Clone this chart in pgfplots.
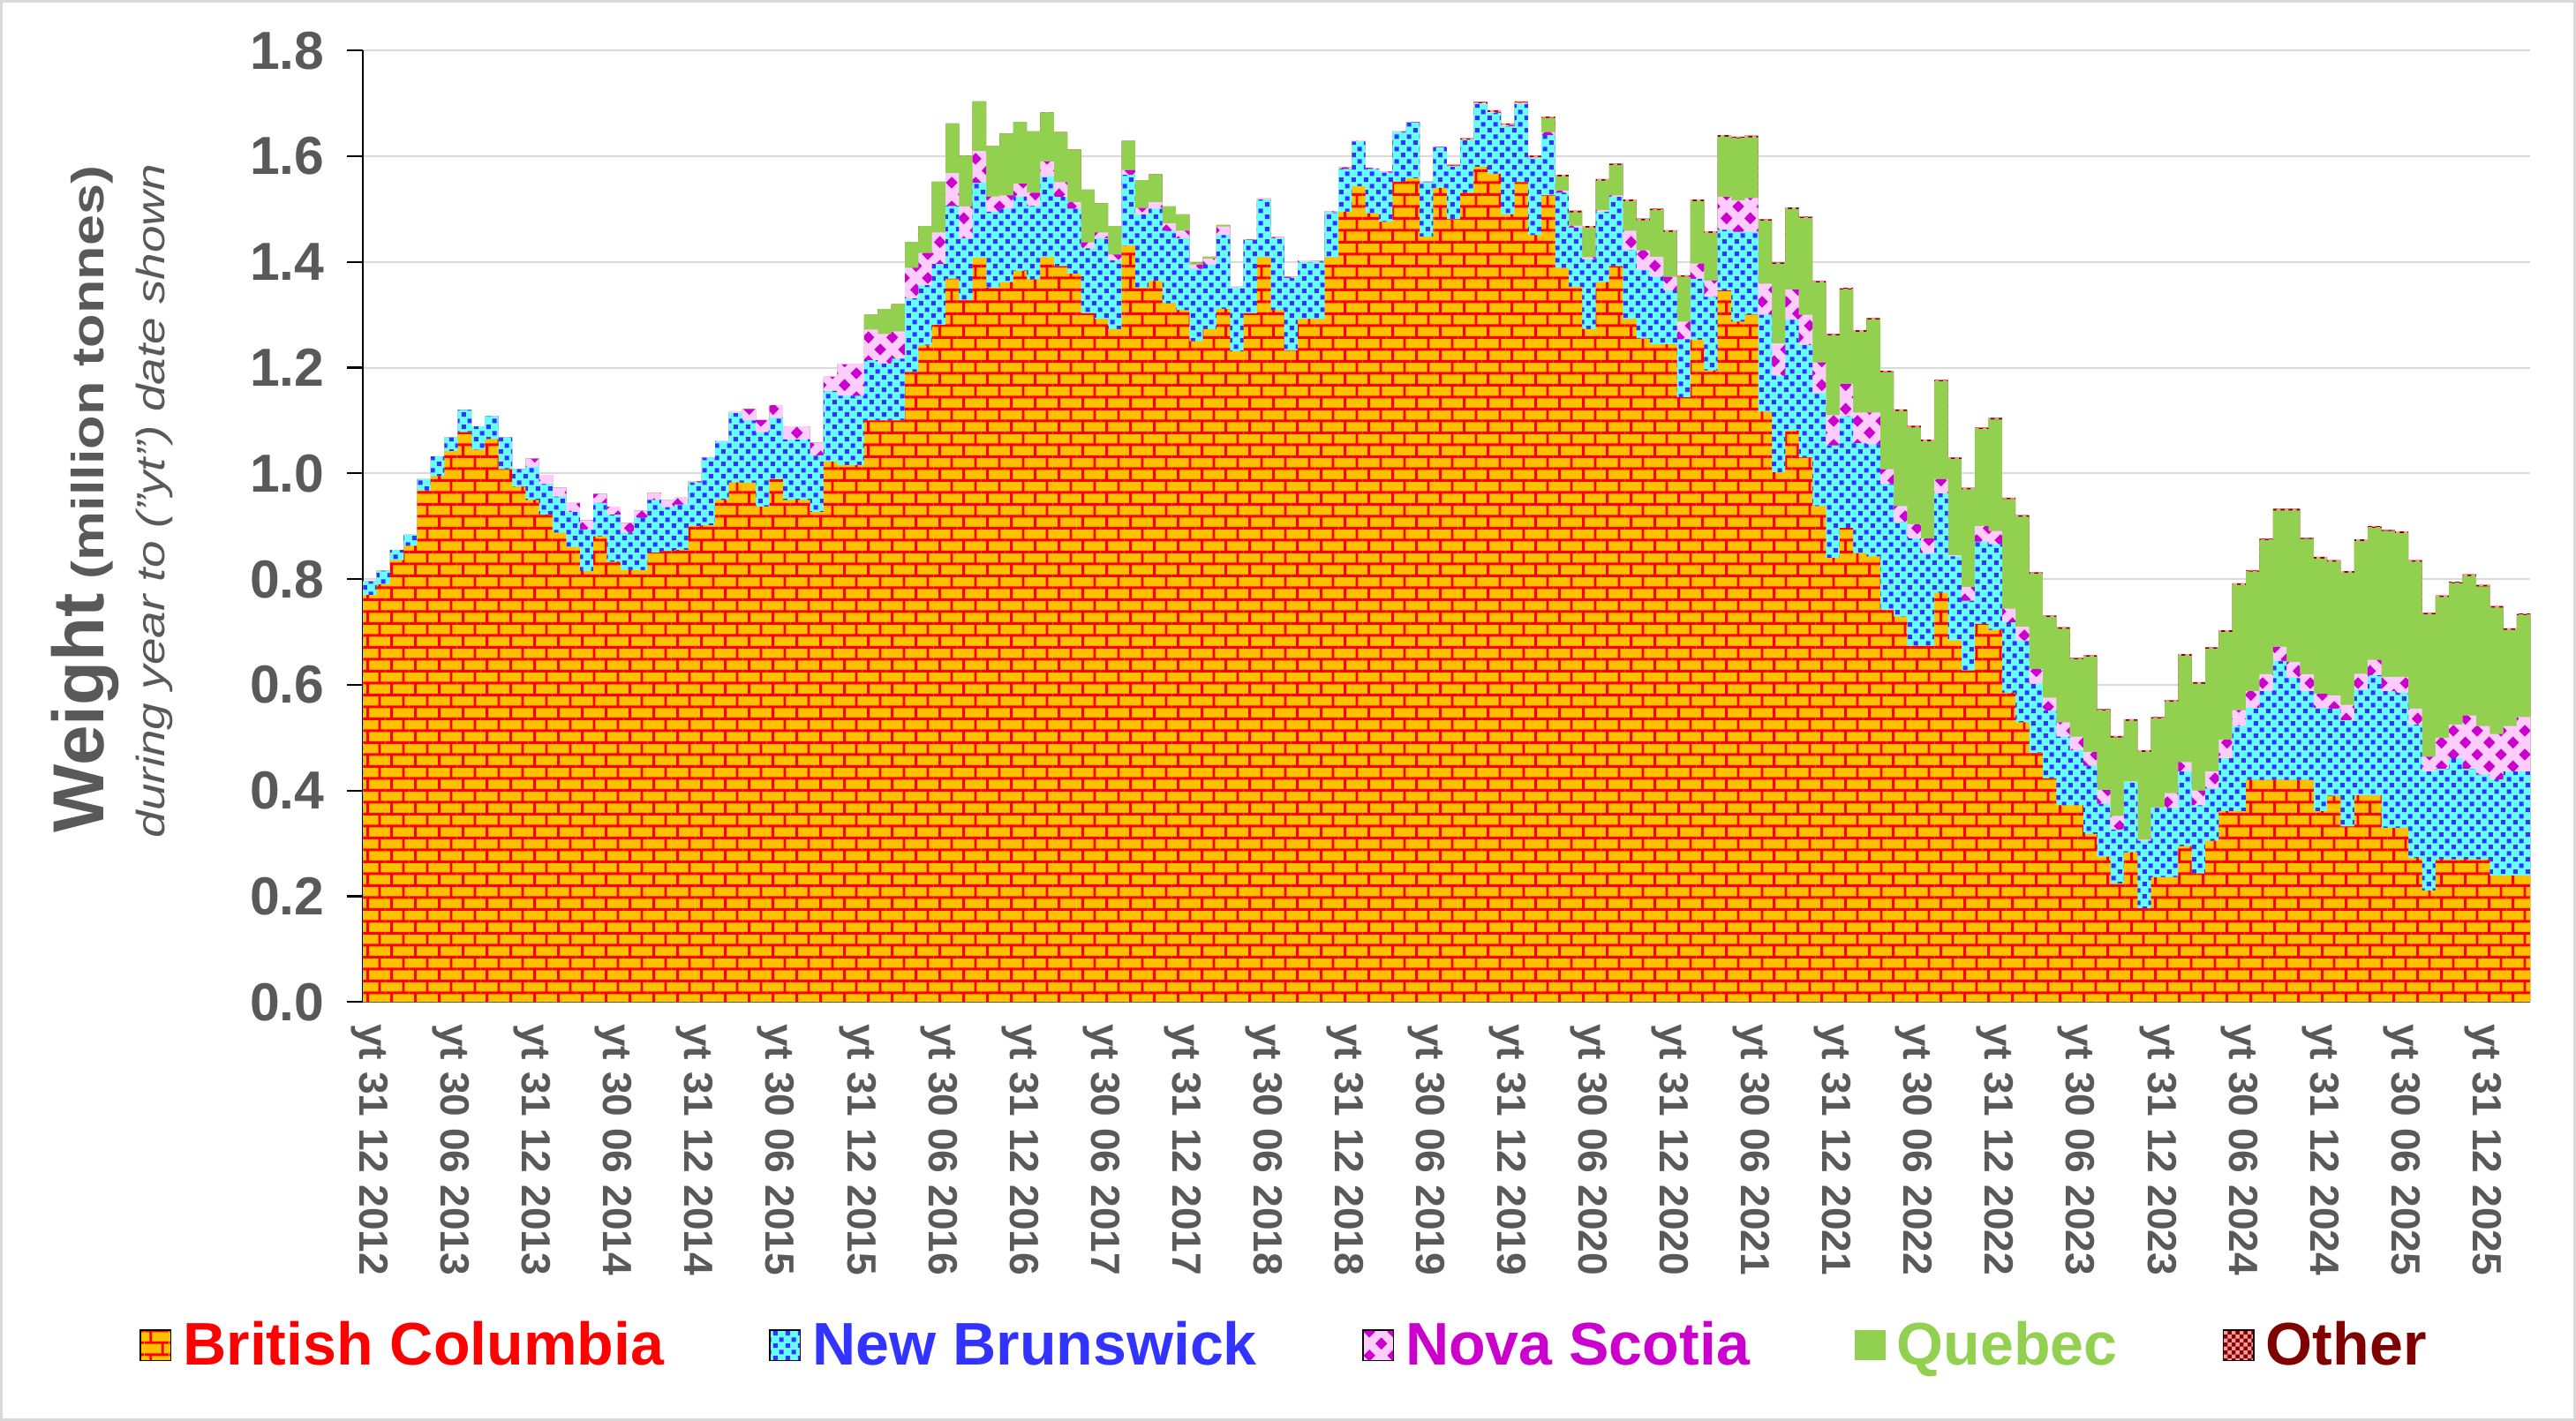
\documentclass[border=0pt]{standalone}
\usepackage{fontspec}
\setmainfont{Liberation Sans}
\usepackage{graphicx}
\usepackage{pgfplots}
\pgfplotsset{compat=1.18}
\usepackage{pgfplotstable}
\usetikzlibrary{patterns}

\definecolor{bcorange}{HTML}{FFC000}
\definecolor{bcred}{HTML}{FF0000}
\definecolor{nbcyan}{HTML}{66FFFF}
\definecolor{nbblue}{HTML}{3333FF}
\definecolor{nspink}{HTML}{FFCCFF}
\definecolor{nsmag}{HTML}{CC00CC}
\definecolor{qgreen}{HTML}{92D050}
\definecolor{othred}{HTML}{800000}
\definecolor{othpink}{HTML}{FF9999}
\definecolor{textgray}{HTML}{595959}
\definecolor{gridgray}{HTML}{D9D9D9}

% brick pattern (British Columbia)
\pgfdeclarepatternformonly{bcbricks}{\pgfpointorigin}{\pgfqpoint{7.35pt}{7.36pt}}{\pgfqpoint{7.35pt}{7.36pt}}{%
  \pgfsetlinewidth{0.8pt}%
  \pgfpathmoveto{\pgfqpoint{0pt}{1.84pt}}\pgfpathlineto{\pgfqpoint{7.35pt}{1.84pt}}%
  \pgfpathmoveto{\pgfqpoint{0pt}{5.52pt}}\pgfpathlineto{\pgfqpoint{7.35pt}{5.52pt}}%
  \pgfpathmoveto{\pgfqpoint{1.84pt}{1.84pt}}\pgfpathlineto{\pgfqpoint{1.84pt}{5.52pt}}%
  \pgfpathmoveto{\pgfqpoint{5.51pt}{5.52pt}}\pgfpathlineto{\pgfqpoint{5.51pt}{7.36pt}}%
  \pgfpathmoveto{\pgfqpoint{5.51pt}{0pt}}\pgfpathlineto{\pgfqpoint{5.51pt}{1.84pt}}%
  \pgfusepath{stroke}%
}
% square dots (New Brunswick)
\pgfdeclarepatternformonly{nbdots}{\pgfpointorigin}{\pgfqpoint{3.675pt}{3.675pt}}{\pgfqpoint{3.675pt}{3.675pt}}{%
  \pgfpathrectangle{\pgfqpoint{0.25pt}{0.25pt}}{\pgfqpoint{1.35pt}{1.35pt}}%
  \pgfpathrectangle{\pgfqpoint{2.09pt}{2.09pt}}{\pgfqpoint{1.35pt}{1.35pt}}%
  \pgfusepath{fill}%
}
% diamonds (Nova Scotia)
\pgfdeclarepatternformonly{nsdiamonds}{\pgfpointorigin}{\pgfqpoint{7.35pt}{7.35pt}}{\pgfqpoint{7.35pt}{7.35pt}}{%
  \pgfpathmoveto{\pgfqpoint{0.0pt}{1.84pt}}\pgfpathlineto{\pgfqpoint{1.84pt}{3.74pt}}%
  \pgfpathlineto{\pgfqpoint{3.68pt}{1.84pt}}\pgfpathlineto{\pgfqpoint{1.84pt}{-0.06pt}}\pgfpathclose
  \pgfpathmoveto{\pgfqpoint{3.67pt}{5.51pt}}\pgfpathlineto{\pgfqpoint{5.51pt}{7.35pt}}%
  \pgfpathlineto{\pgfqpoint{7.35pt}{5.51pt}}\pgfpathlineto{\pgfqpoint{5.51pt}{3.67pt}}\pgfpathclose
  \pgfusepath{fill}%
}
% small checks (Other)
\pgfdeclarepatternformonly{othchecks}{\pgfpointorigin}{\pgfqpoint{2.4pt}{2.4pt}}{\pgfqpoint{2.4pt}{2.4pt}}{%
  \pgfpathrectangle{\pgfqpoint{0pt}{0pt}}{\pgfqpoint{1.2pt}{1.2pt}}%
  \pgfpathrectangle{\pgfqpoint{1.2pt}{1.2pt}}{\pgfqpoint{1.2pt}{1.2pt}}%
  \pgfusepath{fill}%
}

\tikzset{
  bcstyle/.style={fill=bcorange, postaction={pattern=bcbricks, pattern color=bcred}},
  nbstyle/.style={fill=nbcyan, postaction={pattern=nbdots, pattern color=nbblue}},
  nsstyle/.style={fill=nspink, postaction={pattern=nsdiamonds, pattern color=nsmag}},
  qstyle/.style={fill=qgreen},
  othstyle/.style={fill=othred, postaction={pattern=othchecks, pattern color=othpink}},
}

% Monthly values (Dec 2012 = 0 ... Mar 2026 = 159).
% Columns give the top of each stacked layer (million tonnes):
% bc = British Columbia, nbt = + New Brunswick, nst = + Nova Scotia,
% qt = + Quebec, ot = + Other. Last row closes the final step.
\pgfplotstableread{
x bc nbt nst qt ot
0 0.770 0.796 0.796 0.796 0.796
1 0.790 0.816 0.816 0.816 0.816
2 0.836 0.855 0.855 0.855 0.855
3 0.863 0.884 0.884 0.884 0.884
4 0.968 0.989 0.989 0.989 0.989
5 0.995 1.032 1.032 1.032 1.032
6 1.042 1.068 1.068 1.068 1.068
7 1.078 1.120 1.120 1.120 1.120
8 1.045 1.089 1.089 1.089 1.089
9 1.065 1.108 1.108 1.108 1.108
10 1.008 1.068 1.068 1.068 1.068
11 0.975 1.008 1.008 1.008 1.008
12 0.950 1.012 1.028 1.028 1.028
13 0.922 0.980 0.997 0.997 0.997
14 0.888 0.956 0.973 0.973 0.973
15 0.861 0.927 0.944 0.944 0.944
16 0.815 0.894 0.911 0.911 0.911
17 0.881 0.944 0.961 0.961 0.961
18 0.833 0.922 0.937 0.937 0.937
19 0.817 0.888 0.906 0.906 0.906
20 0.817 0.916 0.930 0.930 0.930
21 0.850 0.950 0.963 0.963 0.963
22 0.853 0.936 0.950 0.950 0.950
23 0.855 0.941 0.954 0.954 0.954
24 0.900 0.983 0.985 0.985 0.985
25 0.902 1.029 1.030 1.030 1.030
26 0.950 1.060 1.062 1.062 1.062
27 0.983 1.114 1.116 1.116 1.116
28 0.982 1.100 1.122 1.122 1.122
29 0.937 1.078 1.101 1.101 1.101
30 0.989 1.105 1.129 1.129 1.129
31 0.950 1.064 1.089 1.089 1.089
32 0.950 1.064 1.089 1.089 1.089
33 0.927 1.034 1.058 1.058 1.058
34 1.022 1.156 1.183 1.183 1.183
35 1.016 1.147 1.206 1.206 1.206
36 1.016 1.147 1.206 1.206 1.206
37 1.100 1.214 1.272 1.300 1.300
38 1.100 1.208 1.264 1.311 1.311
39 1.100 1.217 1.269 1.320 1.320
40 1.192 1.331 1.389 1.438 1.438
41 1.242 1.356 1.417 1.468 1.468
42 1.281 1.396 1.456 1.552 1.552
43 1.368 1.506 1.568 1.662 1.662
44 1.328 1.445 1.505 1.601 1.601
45 1.408 1.550 1.610 1.704 1.704
46 1.351 1.495 1.524 1.619 1.619
47 1.362 1.501 1.526 1.643 1.643
48 1.383 1.524 1.548 1.665 1.665
49 1.367 1.506 1.531 1.647 1.647
50 1.409 1.562 1.590 1.683 1.683
51 1.392 1.523 1.551 1.646 1.646
52 1.378 1.501 1.513 1.613 1.613
53 1.303 1.426 1.437 1.537 1.537
54 1.292 1.445 1.456 1.511 1.511
55 1.273 1.403 1.414 1.468 1.468
56 1.431 1.565 1.574 1.629 1.629
57 1.351 1.490 1.502 1.555 1.555
58 1.364 1.501 1.513 1.566 1.566
59 1.322 1.459 1.473 1.505 1.505
60 1.309 1.445 1.459 1.490 1.490
61 1.250 1.387 1.395 1.399 1.399
62 1.273 1.395 1.406 1.410 1.410
63 1.311 1.451 1.467 1.470 1.470
64 1.231 1.352 1.353 1.353 1.353
65 1.303 1.442 1.443 1.443 1.443
66 1.409 1.518 1.520 1.520 1.520
67 1.309 1.445 1.447 1.447 1.447
68 1.233 1.370 1.372 1.372 1.372
69 1.292 1.400 1.403 1.403 1.403
70 1.292 1.400 1.402 1.402 1.402
71 1.409 1.494 1.496 1.496 1.496
72 1.495 1.576 1.579 1.579 1.579
73 1.543 1.628 1.630 1.630 1.630
74 1.492 1.576 1.578 1.578 1.578
75 1.476 1.569 1.571 1.571 1.571
76 1.552 1.646 1.647 1.647 1.647
77 1.558 1.664 1.665 1.665 1.665
78 1.448 1.551 1.552 1.552 1.552
79 1.540 1.617 1.618 1.618 1.618
80 1.481 1.580 1.581 1.581 1.584
81 1.531 1.630 1.631 1.631 1.634
82 1.580 1.699 1.700 1.700 1.703
83 1.567 1.682 1.684 1.684 1.687
84 1.490 1.657 1.659 1.659 1.662
85 1.551 1.699 1.701 1.701 1.704
86 1.451 1.596 1.598 1.598 1.601
87 1.526 1.640 1.646 1.672 1.675
88 1.389 1.531 1.535 1.562 1.565
89 1.353 1.465 1.469 1.494 1.497
90 1.273 1.405 1.409 1.465 1.468
91 1.362 1.495 1.498 1.554 1.557
92 1.392 1.523 1.526 1.583 1.586
93 1.292 1.423 1.459 1.515 1.518
94 1.255 1.385 1.422 1.479 1.482
95 1.244 1.372 1.410 1.498 1.501
96 1.244 1.346 1.372 1.457 1.460
97 1.144 1.254 1.287 1.372 1.375
98 1.253 1.368 1.397 1.515 1.518
99 1.195 1.334 1.365 1.455 1.458
100 1.346 1.461 1.523 1.637 1.640
101 1.287 1.457 1.517 1.634 1.637
102 1.300 1.457 1.521 1.636 1.639
103 1.117 1.300 1.359 1.478 1.481
104 1.002 1.185 1.246 1.396 1.399
105 1.081 1.291 1.348 1.500 1.503
106 1.030 1.243 1.300 1.483 1.486
107 0.938 1.152 1.210 1.361 1.364
108 0.840 1.053 1.110 1.261 1.264
109 0.897 1.108 1.169 1.348 1.351
110 0.849 1.057 1.115 1.268 1.271
111 0.843 1.055 1.115 1.291 1.294
112 0.742 0.980 1.008 1.191 1.194
113 0.729 0.908 0.938 1.118 1.121
114 0.674 0.877 0.904 1.087 1.090
115 0.674 0.849 0.877 1.061 1.064
116 0.774 0.962 0.989 1.174 1.177
117 0.684 0.843 0.845 1.027 1.030
118 0.627 0.759 0.785 0.970 0.973
119 0.715 0.871 0.900 1.084 1.087
120 0.704 0.866 0.891 1.102 1.105
121 0.585 0.718 0.744 0.951 0.954
122 0.529 0.684 0.710 0.918 0.921
123 0.471 0.602 0.630 0.810 0.813
124 0.423 0.551 0.576 0.728 0.731
125 0.372 0.502 0.529 0.706 0.709
126 0.372 0.476 0.502 0.648 0.651
127 0.318 0.447 0.473 0.653 0.656
128 0.275 0.375 0.401 0.551 0.554
129 0.224 0.326 0.352 0.500 0.503
130 0.283 0.416 0.417 0.532 0.535
131 0.177 0.305 0.307 0.473 0.476
132 0.236 0.367 0.368 0.536 0.539
133 0.236 0.367 0.395 0.568 0.571
134 0.295 0.436 0.454 0.655 0.658
135 0.243 0.372 0.400 0.602 0.605
136 0.305 0.404 0.436 0.668 0.671
137 0.361 0.461 0.496 0.700 0.703
138 0.361 0.522 0.552 0.789 0.792
139 0.420 0.556 0.588 0.814 0.817
140 0.420 0.588 0.620 0.874 0.877
141 0.420 0.645 0.672 0.930 0.933
142 0.420 0.614 0.643 0.930 0.933
143 0.420 0.588 0.620 0.875 0.878
144 0.361 0.556 0.583 0.839 0.842
145 0.390 0.555 0.580 0.833 0.836
146 0.332 0.533 0.562 0.812 0.815
147 0.391 0.591 0.621 0.872 0.875
148 0.391 0.618 0.647 0.897 0.900
149 0.329 0.588 0.615 0.890 0.893
150 0.329 0.585 0.615 0.887 0.890
151 0.272 0.525 0.555 0.833 0.836
152 0.211 0.436 0.464 0.733 0.736
153 0.270 0.441 0.500 0.766 0.769
154 0.270 0.461 0.525 0.792 0.795
155 0.270 0.441 0.542 0.806 0.809
156 0.270 0.430 0.522 0.786 0.789
157 0.239 0.421 0.507 0.746 0.749
158 0.239 0.436 0.522 0.704 0.707
159 0.239 0.436 0.539 0.732 0.735
160 0.239 0.436 0.539 0.732 0.735
}\datatable

\begin{document}
\begin{tikzpicture}
\useasboundingbox (-110.5pt,-127.5pt) rectangle (673.5pt,305pt);
\draw[gridgray, line width=0.75pt] (-110.1pt,-127.1pt) rectangle (673.1pt,304.6pt);
\begin{axis}[
  name=ax,
  at={(0pt,0pt)}, anchor=south west,
  scale only axis,
  width=659.6pt, height=289.6pt,
  xmin=0, xmax=160, ymin=0, ymax=1.8,
  axis x line*=bottom, axis y line*=left,
  axis line style={black, line width=0.6pt},
  tick align=outside,
  tick style={black, line width=0.6pt},
  major tick length=4.8pt,
  minor tick length=3.2pt,
  xtick=\empty,
  minor xtick={0,6,...,156},
  extra x ticks={0.5,6.5,...,156.5},
  extra x tick labels={yt 31 12 2012,yt 30 06 2013,yt 31 12 2013,yt 30 06 2014,yt 31 12 2014,yt 30 06 2015,yt 31 12 2015,yt 30 06 2016,yt 31 12 2016,yt 30 06 2017,yt 31 12 2017,yt 30 06 2018,yt 31 12 2018,yt 30 06 2019,yt 31 12 2019,yt 30 06 2020,yt 31 12 2020,yt 30 06 2021,yt 31 12 2021,yt 30 06 2022,yt 31 12 2022,yt 30 06 2023,yt 31 12 2023,yt 30 06 2024,yt 31 12 2024,yt 30 06 2025,yt 31 12 2025},
  extra x tick style={major tick length=3.2pt, tick style={draw=none}, grid=none},
  xticklabel style={rotate=-90, anchor=west, font=\bfseries\fontsize{12.4}{14}\selectfont, text=textgray},
  ytick={0,0.2,0.4,0.6,0.8,1.0,1.2,1.4,1.6,1.8},
  ymajorgrids,
  grid style={gridgray, line width=0.5pt},
  /pgf/number format/assume math mode=true,
  yticklabel style={font=\bfseries\fontsize{16.3}{18}\selectfont, text=textgray, xshift=-3.4pt,
    /pgf/number format/fixed, /pgf/number format/fixed zerofill, /pgf/number format/precision=1},
  legend style={at={(0.426,-0.361)}, anchor=center, draw=none, fill=none,
    legend columns=5, font=\bfseries\fontsize{18.3}{21}\selectfont,
    /tikz/every odd column/.append style={column sep=1.5pt},
    /tikz/every even column/.append style={column sep=30pt}},
  legend cell align=left,
  legend image code/.code={\path[#1, draw=none] (0pt,-4.6pt) rectangle (9.3pt,4.6pt);},
]
\addlegendimage{bcstyle}
\addlegendentry{\textcolor{bcred}{British Columbia}}
\addlegendimage{nbstyle}
\addlegendentry{\textcolor{nbblue}{New Brunswick}}
\addlegendimage{nsstyle}
\addlegendentry{\textcolor{nsmag}{Nova Scotia}}
\addlegendimage{qstyle}
\addlegendentry{\textcolor{qgreen}{Quebec}}
\addlegendimage{othstyle}
\addlegendentry{\textcolor{othred}{Other}}

\addplot[othstyle, draw=none, const plot mark left, forget plot] table[x=x, y=ot] {\datatable} \closedcycle;
\addplot[qstyle, draw=none, const plot mark left, forget plot] table[x=x, y=qt] {\datatable} \closedcycle;
\addplot[nsstyle, draw=none, const plot mark left, forget plot] table[x=x, y=nst] {\datatable} \closedcycle;
\addplot[nbstyle, draw=none, const plot mark left, forget plot] table[x=x, y=nbt] {\datatable} \closedcycle;
\addplot[bcstyle, draw=none, const plot mark left, forget plot] table[x=x, y=bc] {\datatable} \closedcycle;
\end{axis}
\path (ax.south west) ++(-79pt,153pt) node[rotate=90, anchor=base, text=textgray, inner sep=0pt]
  {{\bfseries\fontsize{22}{26}\selectfont Weight}\hspace{4.3pt}\scalebox{1.23}[1]{\bfseries\fontsize{13.75}{16}\selectfont (million tonnes)}};
\path (ax.south west) ++(-60.35pt,152.5pt) node[rotate=90, anchor=base, text=textgray, inner sep=0pt]
  {\scalebox{1.23}[1]{\itshape\fontsize{12}{14}\selectfont during year to ("yt") date shown}};
\end{tikzpicture}
\end{document}
